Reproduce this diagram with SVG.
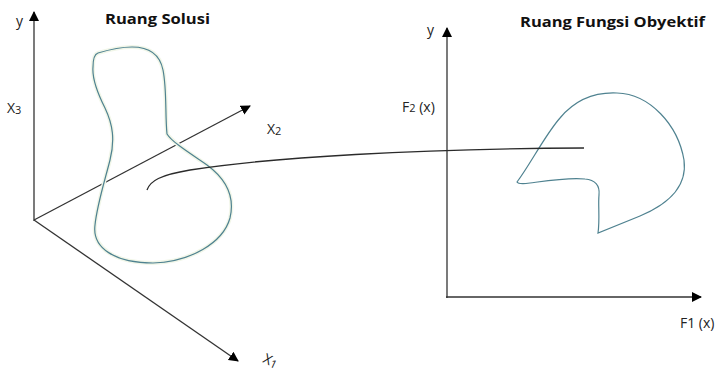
<svg xmlns="http://www.w3.org/2000/svg" width="718" height="376" viewBox="0 0 718 376">
  <style>
    .axis { stroke: #333333; stroke-width: 1.3; fill: none; }
    .blob { stroke: #4f8290; stroke-width: 1.2; fill: none; }
    .glow { stroke: #f1f6e8; stroke-width: 4; fill: none; }
    .conn { stroke: #2b2b2b; stroke-width: 1.3; fill: none; }
    .title { font-family: "Open Sans", "Liberation Sans", sans-serif; font-weight: bold; font-size: 15px; fill: #111; }
    .lbl { font-family: "Open Sans", "Liberation Sans", sans-serif; font-size: 14px; fill: #222; }
  </style>
  <defs>
    <marker id="arr" viewBox="0 0 10 10" refX="9" refY="5" markerWidth="10" markerHeight="10" markerUnits="userSpaceOnUse" orient="auto">
      <path d="M0,0 L10,5 L0,10 Z" fill="#000"/>
    </marker>
  </defs>
  <rect width="718" height="376" fill="#ffffff"/>

  <g id="solution-space">
    <line class="axis" x1="34" y1="221" x2="34" y2="12" marker-end="url(#arr)"/>
    <line class="axis" x1="34" y1="220" x2="250" y2="106" marker-end="url(#arr)"/>
    <line class="axis" x1="34" y1="220" x2="238" y2="361" marker-end="url(#arr)"/>
    <text class="lbl" x="16" y="26">y</text>
    <text class="lbl" x="7" y="113">X<tspan font-size="11" dy="1">3</tspan></text>
    <text class="lbl" x="267" y="134">X<tspan font-size="11" dy="1">2</tspan></text>
    <text class="lbl" transform="translate(262,362) rotate(25)">X<tspan font-size="11" dy="1">1</tspan></text>
    <text class="title" x="105" y="24" textLength="105" lengthAdjust="spacingAndGlyphs">Ruang Solusi</text>
  </g>

  <g id="solution-region">
    <path class="glow" d="M98,53 C108,50 120,47 132,47 C150,47 160,55 163,70 C167,90 165,115 167,134 C172,142 188,152 207,165 C226,179 235,197 230,218 C223,243 190,262 153,263 C115,263 92,248 95,225 C97,205 105,180 110,160 C115,140 113,125 105,108 C96,90 92,78 93,67 C93,58 95,54 98,53 Z"/>
    <path class="blob" d="M98,53 C108,50 120,47 132,47 C150,47 160,55 163,70 C167,90 165,115 167,134 C172,142 188,152 207,165 C226,179 235,197 230,218 C223,243 190,262 153,263 C115,263 92,248 95,225 C97,205 105,180 110,160 C115,140 113,125 105,108 C96,90 92,78 93,67 C93,58 95,54 98,53 Z"/>
  </g>

  <g id="objective-space">
    <line class="axis" x1="447" y1="298" x2="447" y2="28" marker-end="url(#arr)"/>
    <line class="axis" x1="446" y1="297" x2="701" y2="297" marker-end="url(#arr)"/>
    <text class="lbl" x="427" y="35">y</text>
    <text class="lbl" x="402" y="112">F<tspan font-size="11">2</tspan> (x)</text>
    <text class="lbl" x="680" y="328">F1 (x)</text>
    <text class="title" x="520" y="27" textLength="185" lengthAdjust="spacingAndGlyphs">Ruang Fungsi Obyektif</text>
  </g>

  <g id="objective-region">
    <path class="blob" d="M517,182 C530,165 545,135 560,118 C575,100 595,92 617,93 C650,94 678,125 684,160 C688,190 662,207 640,216 L598,233 C600,220 598,205 599,195 C600,185 595,180 585,179 C570,177 545,181 530,183 C522,184 518,184 517,182 Z"/>
  </g>

  <g id="connectors">
    <path class="conn" d="M147,190 C150,181 160,175 190,170 C270,157 420,149 584,148"/>
  </g>
</svg>
